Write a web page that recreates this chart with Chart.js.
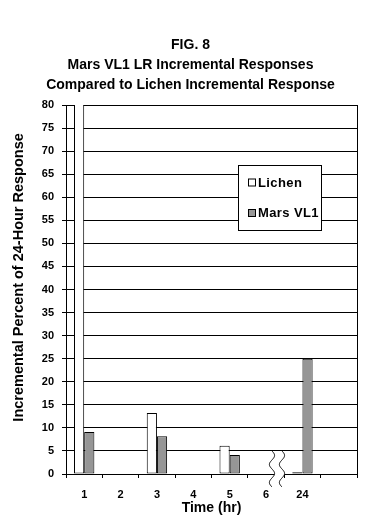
<!DOCTYPE html>
<html><head><meta charset="utf-8">
<script src="https://cdn.jsdelivr.net/npm/chart.js@4"></script>
<style>html,body{margin:0;padding:0;background:#fff}</style>
</head><body>
<canvas id="c" width="386" height="524" style="width:386px;height:524px;display:block"></canvas>
<script>
// ---- data ----
const titleLines = ['FIG. 8', 'Mars VL1 LR Incremental Responses', 'Compared to Lichen Incremental Response'];
const categories = ['1', '2', '3', '4', '5', '6', '24', ''];
const seriesNames = ['Lichen', 'Mars VL1'];
const lichen  = [100, null, 13.2, null, 6.1, null, 0.4, null]; // 1-hr value runs off the top of the scale
const marsVL1 = [9.1, null, 8.2, null, 4.1, null, 25, null];
const yMin = 0, yMax = 80, yStep = 5;
const xTitle = 'Time (hr)';
const yTitle = 'Incremental Percent of 24-Hour Response';

const F = "'Liberation Sans', Arial, sans-serif";
const seriesFill = ['#ffffff', '#969696'];

const breakPlugin = {
  id: 'axisBreak',
  afterDraw(chart) {
    const {ctx, scales: {x, y}} = chart;
    const w = x.getPixelForValue(1) - x.getPixelForValue(0);
    const cx = x.getPixelForValue(5) + 0.3 * w;
    const top = y.getPixelForValue(5), bot = y.getPixelForValue(0) + 13;
    const amp = 2.6, per = (bot - top) / 2;
    const wave = (xc, t) => xc + amp * Math.sin(2 * Math.PI * (t - top) / per);
    const x1 = cx - 5, x2 = cx + 5;
    ctx.save();
    ctx.beginPath();
    for (let t = top; t <= bot; t += 0.5) { const px = wave(x1, t); t === top ? ctx.moveTo(px, t) : ctx.lineTo(px, t); }
    for (let t = bot; t >= top; t -= 0.5) ctx.lineTo(wave(x2, t), t);
    ctx.closePath();
    ctx.fillStyle = '#fff';
    ctx.fill();
    ctx.strokeStyle = '#000';
    ctx.lineWidth = 1;
    [x1, x2].forEach(xc => {
      ctx.beginPath();
      for (let t = top; t <= bot; t += 0.5) { const px = wave(xc, t); t === top ? ctx.moveTo(px, t) : ctx.lineTo(px, t); }
      ctx.stroke();
    });
    ctx.restore();
  }
};

const legendPlugin = {
  id: 'boxLegend',
  afterDraw(chart) {
    const {ctx} = chart;
    const lx = 238.5, ly = 165.5, lw = 83, lh = 65;
    ctx.save();
    ctx.fillStyle = '#fff';
    ctx.fillRect(lx, ly, lw, lh);
    ctx.strokeStyle = '#000';
    ctx.lineWidth = 1;
    ctx.strokeRect(lx, ly, lw, lh);
    ctx.font = "bold 13px " + F;
    if ('letterSpacing' in ctx) ctx.letterSpacing = '0.4px';
    ctx.textBaseline = 'middle';
    ctx.textAlign = 'left';
    const rows = [182.5, 213];
    chart.data.datasets.forEach((ds, i) => {
      const cy = rows[i];
      ctx.fillStyle = ds.backgroundColor;
      ctx.fillRect(248.5, cy - 3.5, 7, 7);
      ctx.strokeStyle = '#000';
      ctx.strokeRect(248.5, cy - 3.5, 7, 7);
      ctx.fillStyle = '#000';
      ctx.fillText(ds.label, 258, cy + 0.5);
    });
    ctx.restore();
  }
};

new Chart(document.getElementById('c'), {
  type: 'bar',
  data: {
    labels: categories,
    datasets: [
      {label: seriesNames[0], data: lichen, backgroundColor: seriesFill[0], borderColor: '#000', borderWidth: 1, borderSkipped: false},
      {label: seriesNames[1], data: marsVL1, backgroundColor: seriesFill[1], borderColor: '#000', borderWidth: 1, borderSkipped: false}
    ]
  },
  options: {
    responsive: false,
    animation: false,
    devicePixelRatio: 1,
    categoryPercentage: 0.56,
    barPercentage: 1,
    layout: {padding: {left: 0, right: 5, top: 0, bottom: 0}},
    plugins: {
      legend: {display: false},
      tooltip: {enabled: false},
      title: {
        display: true, text: titleLines, color: '#000',
        font: {family: F, size: 14, weight: 'bold', lineHeight: 20 / 14},
        padding: {top: 35, bottom: 10}
      }
    },
    scales: {
      x: {
        offset: true,
        grid: {offset: true, drawOnChartArea: false, drawTicks: true, tickLength: 4, color: '#000', tickColor: '#000'},
        border: {display: true, color: '#000', width: 1},
        ticks: {color: '#000', font: {family: F, size: 11, weight: 'bold'}, padding: 10, maxRotation: 0, autoSkip: false},
        title: {display: true, text: xTitle, color: '#000', font: {family: F, size: 14, weight: 'bold'}, padding: {top: 0, bottom: 7.4}},
        afterFit(s) { s.height = 50; }
      },
      y: {
        min: yMin, max: yMax,
        ticks: {stepSize: yStep, color: '#000', font: {family: F, size: 11, weight: 'bold'}, padding: 8},
        grid: {color: '#000', tickColor: '#000', tickLength: 4, lineWidth: 1},
        border: {display: true, color: '#000', width: 1},
        title: {display: true, text: '      ' + yTitle, color: '#000', font: {family: F, size: 14.5, weight: 'bold'}, padding: {top: 10.6, bottom: 0}},
        afterFit(s) { s.width = 66; }
      },
      y2: {
        position: 'right', min: yMin, max: yMax,
        ticks: {display: false},
        grid: {display: false, drawTicks: false},
        border: {display: true, color: '#000', width: 1},
        afterFit(s) { s.width = 24; }
      }
    }
  },
  plugins: [breakPlugin, legendPlugin]
});
</script>
</body></html>
